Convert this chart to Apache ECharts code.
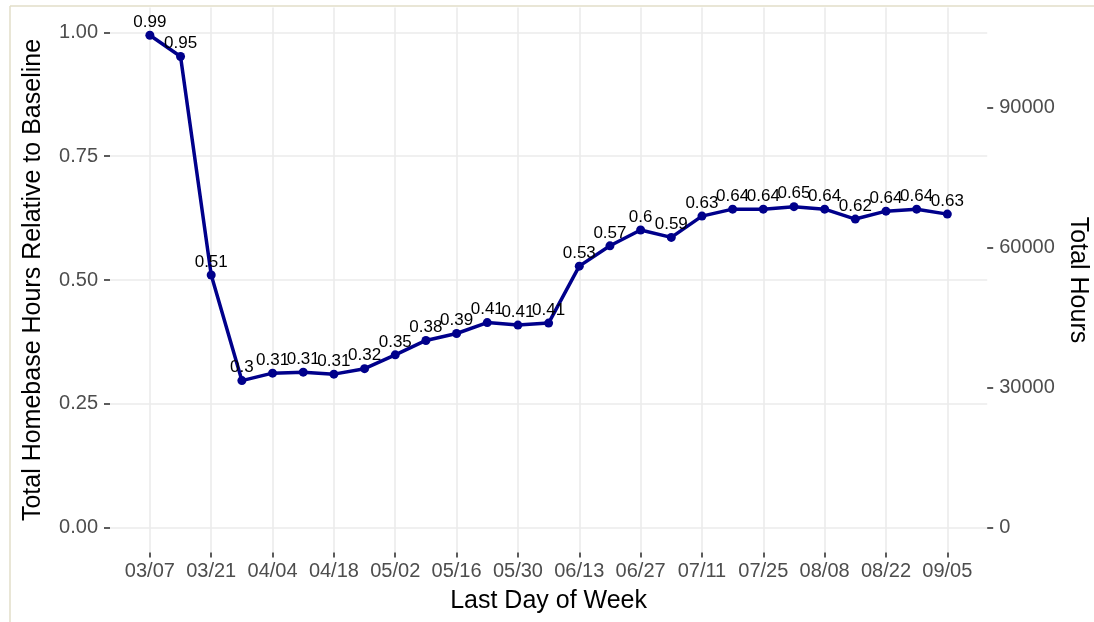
<!DOCTYPE html>
<html><head><meta charset="utf-8">
<script src="https://cdn.jsdelivr.net/npm/echarts@6/dist/echarts.min.js"></script>
<style>html,body{margin:0;padding:0;background:#fff}#c{width:1094px;height:622px}</style>
</head><body><div id="c"></div>
<script>
const weeks = ['03/07','03/14','03/21','03/28','04/04','04/11','04/18','04/25','05/02','05/09','05/16','05/23','05/30','06/06','06/13','06/20','06/27','07/04','07/11','07/18','07/25','08/01','08/08','08/15','08/22','08/29','09/05'];
const relHours = [0.994,0.951,0.510,0.297,0.312,0.314,0.310,0.321,0.349,0.378,0.392,0.414,0.409,0.413,0.528,0.569,0.601,0.586,0.629,0.643,0.643,0.648,0.643,0.623,0.639,0.643,0.633];
const xTickLabels = ['03/07','03/21','04/04','04/18','05/02','05/16','05/30','06/13','06/27','07/11','07/25','08/08','08/22','09/05'];
const leftTicks = [0, 0.25, 0.5, 0.75, 1];
const rightTicks = [0, 30000, 60000, 90000];
const hoursPerUnit = 106230;

const FONT = 'Liberation Sans';
const xTickIdx = xTickLabels.map(l => weeks.indexOf(l));
const n = weeks.length;
const xPad = (n - 1) * 0.05;
const yMin = -0.05, yMax = 1.05;

const chart = echarts.init(document.getElementById('c'), null, {renderer: 'canvas'});
chart.setOption({
  animation: false,
  backgroundColor: '#fff',
  textStyle: {fontFamily: FONT},
  graphic: [
    {type: 'line', shape: {x1: 10, y1: 6, x2: 1094, y2: 6}, style: {stroke: '#e2dec9', lineWidth: 1.5}, silent: true},
    {type: 'line', shape: {x1: 10, y1: 6, x2: 10, y2: 622}, style: {stroke: '#e2dec9', lineWidth: 1.5}, silent: true}
  ],
  grid: {left: 110, right: 106.8, top: 7.5, bottom: 69.5, containLabel: false, outerBoundsMode: 'none'},
  xAxis: {
    type: 'value', min: -xPad, max: n - 1 + xPad,
    name: 'Last Day of Week', nameLocation: 'middle', nameGap: 36,
    nameTextStyle: {fontFamily: FONT, fontSize: 25, color: '#000'},
    axisLine: {show: false, onZero: false},
    axisTick: {show: true, length: 5, lineStyle: {color: '#333', width: 1.6}, customValues: xTickIdx},
    axisLabel: {customValues: xTickIdx, formatter: v => weeks[Math.round(v)], fontFamily: FONT, fontSize: 20, color: '#4d4d4d', margin: 9},
    splitLine: {show: true, lineStyle: {color: '#ebebeb', width: 1.6}}
  },
  yAxis: [
    {
      type: 'value', min: yMin, max: yMax, position: 'left',
      name: 'Total Homebase Hours Relative to Baseline', nameLocation: 'middle', nameGap: 64,
      nameTextStyle: {fontFamily: FONT, fontSize: 25, color: '#000'},
      axisLine: {show: false, onZero: false},
      axisTick: {show: true, length: 6, lineStyle: {color: '#333', width: 1.6}, customValues: leftTicks},
      axisLabel: {customValues: leftTicks, formatter: v => v.toFixed(2), fontFamily: FONT, fontSize: 20, color: '#4d4d4d', margin: 12},
      splitLine: {show: true, lineStyle: {color: '#ebebeb', width: 1.6}}
    },
    {
      type: 'value', min: yMin * hoursPerUnit, max: yMax * hoursPerUnit, position: 'right',
      name: 'Total Hours', nameLocation: 'middle', nameGap: 74, nameRotate: -90,
      nameTextStyle: {fontFamily: FONT, fontSize: 25, color: '#000'},
      axisLine: {show: false, onZero: false},
      axisTick: {show: true, length: 6, lineStyle: {color: '#333', width: 1.6}, customValues: rightTicks},
      axisLabel: {customValues: rightTicks, formatter: v => String(v), fontFamily: FONT, fontSize: 20, color: '#4d4d4d', margin: 12},
      splitLine: {show: false}
    }
  ],
  series: [{
    type: 'line',
    yAxisIndex: 0,
    data: relHours.map((v, i) => [i, v]),
    symbol: 'circle', symbolSize: 9,
    lineStyle: {color: '#00008b', width: 3.5},
    itemStyle: {color: '#00008b'},
    label: {
      show: true, position: 'top', distance: 0,
      formatter: p => String(Math.round(p.value[1] * 100) / 100),
      fontFamily: FONT, fontSize: 17, color: '#000'
    },
    labelLayout: {hideOverlap: false},
    z: 5
  }]
});
</script>
</body></html>
